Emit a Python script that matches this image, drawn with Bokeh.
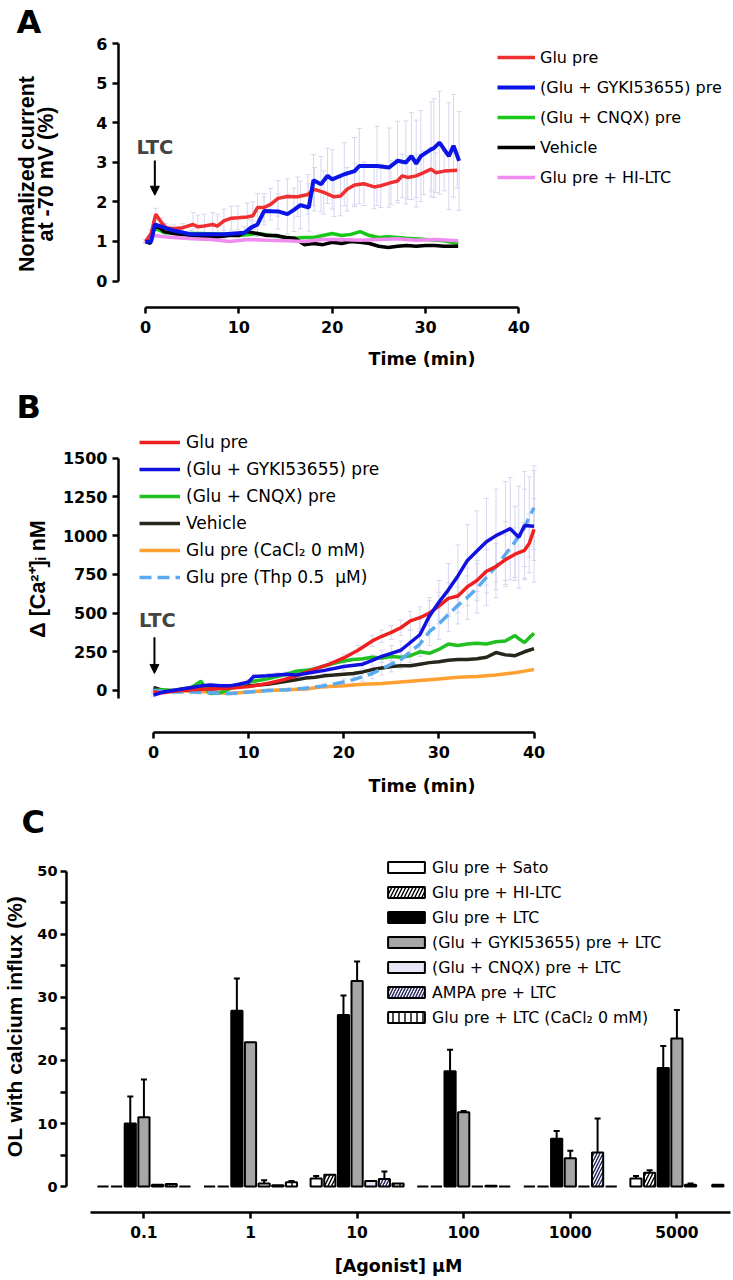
import math
from bokeh.plotting import figure
from bokeh.models import (Range1d, Legend, LegendItem, Label, Arrow, NormalHead, Title, LinearAxis,
                          Whisker, TeeHead, ColumnDataSource, FixedTicker)
from bokeh.transform import dodge
from bokeh.embed import file_html
from bokeh.resources import INLINE

HF = "DejaVu Sans"
VF = "Liberation Sans"
ERR = "#d6d6f2"

# ---------------- Panel A data ----------------
A_LABELS = ["Glu pre", "(Glu + GYKI53655) pre", "(Glu + CNQX) pre", "Vehicle", "Glu pre + HI-LTC"]
A_COLORS = ["#f03030", "#0a14e6", "#18c818", "#000000", "#f08cf0"]

A_GLU_T = [0, 0.6, 1.1, 1.7, 2.2, 3, 4, 5.1, 5.6, 6.3, 7.2, 7.7, 8.4, 9.2, 9.9, 10.9, 11.5, 12, 12.7, 13.4,
           14.2, 15.2, 16.3, 17.4, 18.1, 19.1, 20.2, 20.9, 21.6, 22.4, 23.4, 24.5, 25.2, 26.3, 27, 27.5, 28.1,
           29, 29.8, 30.6, 31.1, 32, 33.4]
A_GLU_V = [1.0, 1.2, 1.69, 1.48, 1.35, 1.32, 1.35, 1.43, 1.37, 1.39, 1.43, 1.39, 1.52, 1.59, 1.6, 1.62, 1.65,
           1.86, 1.86, 1.94, 2.09, 2.14, 2.13, 2.19, 2.32, 2.24, 2.13, 2.15, 2.32, 2.43, 2.46, 2.38, 2.41, 2.49,
           2.53, 2.66, 2.62, 2.66, 2.74, 2.83, 2.74, 2.78, 2.8]
A_GLU_E = [0.05, 0.1, 0.15, 0.12, 0.1, 0.1, 0.1, 0.3, 0.3, 0.3, 0.3, 0.3, 0.3, 0.3, 0.3, 0.35, 0.35, 0.35, 0.35,
           0.4, 0.45, 0.45, 0.5, 0.5, 0.55, 0.55, 0.5, 0.5, 0.55, 0.55, 0.55, 0.55, 0.55, 0.55, 0.55, 0.55, 0.55,
           0.55, 0.55, 0.55, 0.5, 0.5, 0.45]

A_GYKI_T = [0, 0.6, 1, 2, 3.1, 4.9, 8.4, 10.6, 11.3, 12, 12.7, 14.2, 15.2, 15.9, 16.6, 17.5, 18, 18.8, 19.5, 20,
            21.3, 22.4, 22.9, 24.8, 26.1, 27, 27.9, 28.5, 29, 29.5, 30.6, 30.9, 31.5, 32.5, 33, 33.6]
A_GYKI_V = [0.99, 1.0, 1.43, 1.35, 1.27, 1.18, 1.18, 1.22, 1.35, 1.43, 1.77, 1.76, 1.69, 1.8, 1.92, 1.86, 2.55,
            2.45, 2.66, 2.57, 2.7, 2.78, 2.91, 2.91, 2.87, 3.04, 3.0, 3.16, 2.97, 3.16, 3.33, 3.36, 3.5, 3.16,
            3.42, 3.04]
A_GYKI_E = [0.02, 0.05, 0.1, 0.1, 0.1, 0.1, 0.1, 0.15, 0.2, 0.3, 0.35, 0.45, 0.5, 0.55, 0.6, 0.6, 0.65, 0.7,
            0.7, 0.75, 0.8, 0.85, 0.95, 1.0, 1.0, 1.0, 1.05, 1.1, 1.1, 1.15, 1.2, 1.25, 1.3, 1.35, 1.3, 1.25]

A_CNQX_T = [0, 0.5, 1, 2, 4, 6, 8, 10, 12, 14, 16, 17, 18, 19, 20, 21, 22, 23, 24, 25, 26, 28, 30, 32, 33.5]
A_CNQX_V = [1.0, 1.05, 1.35, 1.22, 1.2, 1.2, 1.18, 1.15, 1.2, 1.13, 1.08, 1.1, 1.1, 1.15, 1.2, 1.15, 1.18, 1.25,
            1.15, 1.1, 1.12, 1.08, 1.05, 1.02, 0.95]

A_VEH_T = [0, 0.5, 1, 1.5, 2, 3, 5, 7, 9, 10, 10.8, 12, 13, 14, 15, 16, 17, 18, 19, 20, 21, 22, 23, 24, 25, 26,
           27, 28, 29, 30, 31, 32, 33.5]
A_VEH_V = [1.0, 0.95, 1.4, 1.35, 1.25, 1.2, 1.15, 1.1, 1.15, 1.15, 1.25, 1.2, 1.15, 1.15, 1.1, 1.08, 0.92, 0.95,
           0.92, 0.98, 0.95, 1.0, 0.98, 0.95, 0.88, 0.85, 0.88, 0.9, 0.88, 0.9, 0.9, 0.88, 0.88]

A_HI_T = [0, 1, 2, 3, 5, 7, 9, 11, 13, 15, 17, 19, 21, 23, 25, 27, 29, 31, 33.5]
A_HI_V = [1.0, 1.15, 1.12, 1.1, 1.07, 1.05, 1.0, 1.05, 1.03, 1.02, 1.0, 1.05, 1.05, 1.03, 1.05, 1.07, 1.03,
          1.05, 1.02]

A_XTICKS = [0, 10, 20, 30, 40]
A_YTICKS = [0, 1, 2, 3, 4, 5, 6]

# ---------------- Panel B data ----------------
B_LABELS = ["Glu pre", "(Glu + GYKI53655) pre", "(Glu + CNQX) pre", "Vehicle",
            "Glu pre (CaCl\u2082 0 mM)", "Glu pre (Thp 0.5  \u03bcM)"]
B_COLORS = ["#f02020", "#1010e0", "#20c020", "#26261a", "#ffa030", "#5aaaf0"]

B_GLU_T = [0, 1, 2, 4, 6, 8, 10, 12, 14, 15.5, 17, 18.5, 20, 21.5, 23, 24, 25, 26, 27, 28, 29, 30, 31, 32, 33,
           34, 35, 36, 37, 38, 39, 39.5, 40]
B_GLU_V = [-10, -15, -5, 5, 10, 15, 25, 45, 75, 105, 140, 170, 210, 260, 320, 350, 375, 405, 450, 470, 500,
           545, 595, 610, 670, 710, 770, 800, 845, 880, 905, 950, 1040]
B_GLU_E = [5, 5, 5, 5, 5, 5, 8, 10, 12, 15, 18, 20, 25, 30, 35, 40, 45, 50, 60, 70, 80, 90, 100, 110, 120, 130,
           140, 150, 160, 170, 180, 190, 200]

B_GYKI_T = [0, 0.5, 1, 2, 3, 4, 5, 6, 7, 8, 9, 10, 10.5, 12, 13, 14, 15, 16, 18, 20, 22, 23, 24, 25, 26, 27, 28,
            29, 30, 31, 32, 33, 34, 35, 36, 37, 37.5, 38.4, 39, 40]
B_GYKI_V = [-30, -20, -10, 0, 10, 20, 30, 35, 30, 30, 40, 55, 90, 95, 100, 105, 100, 110, 130, 155, 170, 195,
            220, 240, 260, 310, 360, 480, 570, 650, 740, 840, 900, 960, 1000, 1030, 1045, 990, 1065, 1060]
B_GYKI_E = [10, 10, 10, 10, 10, 10, 10, 10, 10, 10, 10, 15, 15, 15, 15, 15, 15, 20, 20, 25, 30, 35, 40, 50, 60,
            80, 100, 120, 140, 170, 200, 230, 260, 280, 300, 320, 330, 330, 350, 360]

B_CNQX_T = [0, 1, 2, 3, 4, 4.5, 5, 5.5, 6, 7, 8, 9, 10, 11, 12, 13, 14, 15, 16, 17, 18, 19, 20, 21, 22, 23, 24,
            25, 26, 27, 28, 29, 30, 31, 32, 33, 34, 35, 36, 37, 38, 38.5, 39, 39.5, 40]
B_CNQX_V = [0, 5, 0, 10, 20, 40, 60, 10, -20, -15, 10, 30, 55, 65, 75, 90, 105, 125, 130, 140, 160, 175, 190,
            200, 205, 215, 210, 220, 215, 225, 250, 240, 265, 300, 290, 300, 305, 300, 315, 320, 355, 330, 310,
            340, 370]

B_VEH_T = [0, 0.5, 1, 2, 3, 4, 5, 6, 7, 8, 9, 10, 11, 12, 13, 14, 15, 16, 17, 18, 19, 20, 21, 22, 23, 24, 25,
           26, 27, 28, 29, 30, 31, 32, 33, 34, 35, 36, 37, 38, 39, 40]
B_VEH_V = [20, 10, 0, -5, 0, 5, 10, 10, 15, 20, 25, 30, 35, 40, 50, 60, 70, 80, 85, 95, 100, 105, 110, 120, 135,
           145, 155, 160, 160, 170, 180, 185, 195, 200, 200, 205, 215, 245, 230, 225, 250, 270]

B_CA0_T = [0, 2, 4, 6, 8, 10, 12, 14, 16, 18, 20, 22, 24, 26, 28, 30, 32, 34, 36, 38, 39, 40]
B_CA0_V = [0, 0, -5, -10, -20, -10, 0, 5, 10, 25, 30, 40, 45, 55, 65, 75, 85, 90, 100, 115, 125, 135]

B_THP_T = [0, 2, 4, 6, 8, 10, 12, 14, 16, 18, 20, 21, 22, 23, 24, 25, 26, 27, 28, 29, 30, 31, 32, 33, 34, 35,
           36, 37, 38, 39, 39.5, 40]
B_THP_V = [0, -10, -10, -15, -20, -10, 0, 5, 15, 30, 55, 70, 90, 110, 140, 170, 200, 250, 300, 380, 430, 490,
           550, 600, 660, 730, 800, 880, 960, 1050, 1120, 1180]
B_THP_E = [5, 5, 5, 5, 5, 5, 8, 10, 12, 15, 20, 25, 30, 35, 40, 50, 60, 70, 80, 90, 100, 110, 120, 140, 160,
           180, 200, 210, 230, 250, 260, 270]

B_XTICKS = [0, 10, 20, 30, 40]
B_YTICKS = [0, 250, 500, 750, 1000, 1250, 1500]

# ---------------- Panel C data ----------------
C_GROUPS = ["0.1", "1", "10", "100", "1000", "5000"]
C_LABELS = ["Glu pre + Sato", "Glu pre + HI-LTC", "Glu pre + LTC", "(Glu + GYKI53655) pre + LTC",
            "(Glu + CNQX) pre + LTC", "AMPA pre + LTC", "Glu pre + LTC (CaCl\u2082 0 mM)"]
C_SATO = [0, 0, 1.3, 0, 0, 1.3]
C_SATO_E = [0, 0, 0.4, 0, 0, 0.4]
C_HI = [0, 0, 1.9, 0, 0, 2.2]
C_HI_E = [0, 0, 0, 0, 0, 0.4]
C_LTC = [10.0, 27.9, 27.2, 18.3, 7.6, 18.8]
C_LTC_E = [4.3, 5.1, 3.1, 3.4, 1.2, 3.5]
C_GYKI = [11.0, 22.9, 32.6, 11.8, 4.5, 23.5]
C_GYKI_E = [6.0, 0, 3.1, 0.2, 1.2, 4.5]
C_CNQX = [0.3, 0.5, 0.9, 0, 0, 0.3]
C_CNQX_E = [0, 0.5, 0, 0, 0, 0.2]
C_AMPA = [0.4, 0.2, 1.2, 0.15, 5.4, float("nan")]
C_AMPA_E = [0, 0, 1.2, 0, 5.4, 0]
C_CA0 = [0, 0.7, 0.5, 0, 0, 0.3]
C_CA0_E = [0, 0.2, 0, 0, 0, 0]
C_YTICKS = [0, 10, 20, 30, 40, 50]
C_YMINOR = [5, 15, 25, 35, 45]


def make_fig(w, h, xr, yr, bl, br, bt, bb):
    p = figure(width=w, height=h, x_range=Range1d(*xr), y_range=Range1d(*yr),
               output_backend="svg", toolbar_location=None,
               min_border_left=bl, min_border_right=br, min_border_top=bt, min_border_bottom=bb)
    p.outline_line_color = None
    p.xgrid.visible = False
    p.ygrid.visible = False
    p.background_fill_color = "white"
    p.border_fill_color = "white"
    return p


def style_axis(ax, ticks, bounds, fs, minor=None):
    ax.ticker = FixedTicker(ticks=ticks, minor_ticks=minor or [])
    ax.bounds = bounds
    ax.axis_line_width = 2.5
    ax.axis_line_color = "black"
    ax.major_tick_line_width = 2.5
    ax.major_tick_line_color = "black"
    ax.major_tick_out = 6
    ax.major_tick_in = 0
    if minor:
        ax.minor_tick_line_width = 2.5
        ax.minor_tick_line_color = "black"
        ax.minor_tick_out = 6
        ax.minor_tick_in = 0
    else:
        ax.minor_tick_line_color = None
    ax.major_label_text_font = HF
    ax.major_label_text_font_style = "bold"
    ax.major_label_text_font_size = fs
    ax.major_label_text_color = "black"
    ax.axis_label_text_font_style = "bold"
    ax.axis_label_text_color = "black"


def style_legend(lg, gw, gh, lh, sp, std, fs):
    lg.glyph_width = gw
    lg.glyph_height = gh
    lg.label_height = lh
    lg.spacing = sp
    lg.label_standoff = std
    lg.padding = 0
    lg.margin = 0
    lg.border_line_color = None
    lg.background_fill_alpha = 0
    lg.label_text_font = HF
    lg.label_text_font_size = fs
    lg.label_text_color = "black"


def panel_letter(p, letter, offset, size):
    t = Title(text=letter, align="left", offset=offset, standoff=0, vertical_align="bottom",
              text_font=HF, text_font_style="bold", text_font_size=size, text_color="black")
    p.add_layout(t, "above")


def err_whisker(t, v, e, color, size=5, width=1):
    src = ColumnDataSource(dict(t=t, lo=[a - b for a, b in zip(v, e)], up=[a + b for a, b in zip(v, e)]))
    return Whisker(source=src, base="t", lower="lo", upper="up", dimension="height",
                   line_color=color, line_width=width,
                   upper_head=TeeHead(size=size, line_color=color, line_width=width),
                   lower_head=TeeHead(size=size, line_color=color, line_width=width),
                   level="underlay")


# ====================== Panel A (page y 0-380) ======================
pA = make_fig(733, 380, (-2.893, 62.14), (-0.670, 6.084), 118, 8, 40, 73)
style_axis(pA.xaxis[0], A_XTICKS, (0, 40), "16px")
style_axis(pA.yaxis[0], A_YTICKS, (0, 6), "16px")
pA.xaxis.major_label_standoff = 7
pA.yaxis.major_label_standoff = 5
pA.xaxis.axis_label = "Time (min)"
pA.xaxis.axis_label_text_font = HF
pA.xaxis.axis_label_text_font_size = "17.5px"
pA.xaxis.axis_label_standoff = 13
pA.yaxis.axis_label = "at -70 mV (%)"
pA.yaxis.axis_label_text_font = VF
pA.yaxis.axis_label_text_font_size = "21.5px"
pA.yaxis.axis_label_standoff = 35
outerA = LinearAxis(axis_label="Normalized current", ticker=FixedTicker(ticks=[]),
                    axis_line_color=None, major_tick_line_color=None, minor_tick_line_color=None,
                    major_tick_out=0, major_tick_in=0, major_label_standoff=0,
                    major_label_text_font_size="1px", axis_label_standoff=-7,
                    axis_label_text_font=VF, axis_label_text_font_size="21.5px",
                    axis_label_text_font_style="bold", axis_label_text_color="black")
pA.add_layout(outerA, "left")

pA.add_layout(err_whisker(A_GLU_T, A_GLU_V, A_GLU_E, ERR))
pA.add_layout(err_whisker(A_GYKI_T, A_GYKI_V, A_GYKI_E, ERR))

rA_cnqx = pA.line(A_CNQX_T, A_CNQX_V, line_color=A_COLORS[2], line_width=3.5)
rA_veh = pA.line(A_VEH_T, A_VEH_V, line_color=A_COLORS[3], line_width=3.5)
rA_hi = pA.line(A_HI_T, A_HI_V, line_color=A_COLORS[4], line_width=3.5)
rA_glu = pA.line(A_GLU_T, A_GLU_V, line_color=A_COLORS[0], line_width=3.5)
rA_gyki = pA.line(A_GYKI_T, A_GYKI_V, line_color=A_COLORS[1], line_width=4)

legA = Legend(items=[LegendItem(label=A_LABELS[0], renderers=[rA_glu]),
                     LegendItem(label=A_LABELS[1], renderers=[rA_gyki]),
                     LegendItem(label=A_LABELS[2], renderers=[rA_cnqx]),
                     LegendItem(label=A_LABELS[3], renderers=[rA_veh]),
                     LegendItem(label=A_LABELS[4], renderers=[rA_hi])],
              location=(379, 120))
style_legend(legA, 38, 20, 20, 10, 5, "16px")
pA.add_layout(legA)

panel_letter(pA, "A", -102, "32px")
pA.add_layout(Label(x=1, y=3.385, text="LTC", text_font=HF, text_font_style="bold",
                    text_font_size="19.5px", text_align="center", text_baseline="middle"))
pA.add_layout(Arrow(x_start=1, y_start=3.05, x_end=1, y_end=2.17, line_width=2, line_color="black",
                    end=NormalHead(size=9, fill_color="black", line_color="black")))

# ====================== Panel B (page y 380-800) ======================
pB = make_fig(733, 420, (-3.679, 60.13), (-271.2, 1711.1), 118, 8, 45, 68)
style_axis(pB.xaxis[0], B_XTICKS, (0, 40), "16px")
style_axis(pB.yaxis[0], B_YTICKS, (-52, 1500), "16px")
pB.xaxis.major_label_standoff = 7
pB.yaxis.major_label_standoff = 5
pB.xaxis.axis_label = "Time (min)"
pB.xaxis.axis_label_text_font = HF
pB.xaxis.axis_label_text_font_size = "17.5px"
pB.xaxis.axis_label_standoff = 15
pB.yaxis.axis_label = "\u0394 [Ca\u00b2\u207a]\u1d62 nM"
pB.yaxis.axis_label_text_font = VF
pB.yaxis.axis_label_text_font_size = "21.5px"
pB.yaxis.axis_label_standoff = 10

pB.add_layout(err_whisker(B_GLU_T, B_GLU_V, B_GLU_E, ERR))
pB.add_layout(err_whisker(B_GYKI_T, B_GYKI_V, B_GYKI_E, ERR))
pB.add_layout(err_whisker(B_THP_T, B_THP_V, B_THP_E, ERR))

rB_ca0 = pB.line(B_CA0_T, B_CA0_V, line_color=B_COLORS[4], line_width=3.5)
rB_veh = pB.line(B_VEH_T, B_VEH_V, line_color=B_COLORS[3], line_width=3.5)
rB_cnqx = pB.line(B_CNQX_T, B_CNQX_V, line_color=B_COLORS[2], line_width=3.5)
rB_thp = pB.line(B_THP_T, B_THP_V, line_color=B_COLORS[5], line_width=3.5, line_dash="12 6")
rB_glu = pB.line(B_GLU_T, B_GLU_V, line_color=B_COLORS[0], line_width=3.5)
rB_gyki = pB.line(B_GYKI_T, B_GYKI_V, line_color=B_COLORS[1], line_width=3.5)

legB = Legend(items=[LegendItem(label=B_LABELS[0], renderers=[rB_glu]),
                     LegendItem(label=B_LABELS[1], renderers=[rB_gyki]),
                     LegendItem(label=B_LABELS[2], renderers=[rB_cnqx]),
                     LegendItem(label=B_LABELS[3], renderers=[rB_veh]),
                     LegendItem(label=B_LABELS[4], renderers=[rB_ca0]),
                     LegendItem(label=B_LABELS[5], renderers=[rB_thp])],
              location=(21, 145))
style_legend(legB, 41, 20, 20, 7, 6, "17px")
pB.add_layout(legB)

panel_letter(pB, "B", -102, "32px")
pB.add_layout(Label(x=0.42, y=452, text="LTC", text_font=HF, text_font_style="bold",
                    text_font_size="19.5px", text_align="center", text_baseline="middle"))
pB.add_layout(Arrow(x_start=0.1, y_start=344, x_end=0.1, y_end=110, line_width=2, line_color="black",
                    end=NormalHead(size=9, fill_color="black", line_color="black")))

# ====================== Panel C (page y 800-1280) ======================
pC = make_fig(733, 480, (-0.7263, 5.5028), (-4.105, 54.88), 61, 3, 38, 68)
style_axis(pC.xaxis[0], [0, 1, 2, 3, 4, 5], (-0.5, 5.5), "15.5px")
style_axis(pC.yaxis[0], C_YTICKS, (0, 50), "14.5px", minor=C_YMINOR)
pC.xaxis.major_label_overrides = {i: g for i, g in enumerate(C_GROUPS)}
pC.xaxis.major_label_standoff = 7
pC.yaxis.major_label_standoff = 3
pC.xaxis.axis_label = "[Agonist] \u03bcM"
pC.xaxis.axis_label_text_font = HF
pC.xaxis.axis_label_text_font_size = "17.5px"
pC.xaxis.axis_label_standoff = 15
pC.yaxis.axis_label = "OL with calcium influx (%)"
pC.yaxis.axis_label_text_font = VF
pC.yaxis.axis_label_text_font_size = "21px"
pC.yaxis.axis_label_standoff = 8

C_VALUES = [C_SATO, C_HI, C_LTC, C_GYKI, C_CNQX, C_AMPA, C_CA0]
C_ERRS = [C_SATO_E, C_HI_E, C_LTC_E, C_GYKI_E, C_CNQX_E, C_AMPA_E, C_CA0_E]
C_STYLES = [
    dict(fill_color="white"),
    dict(fill_color="white", hatch_pattern="/", hatch_color="black", hatch_weight=1.4, hatch_scale=7),
    dict(fill_color="black"),
    dict(fill_color="#a6a6a6"),
    dict(fill_color="#e6e6f5"),
    dict(fill_color="white", hatch_pattern="/", hatch_color="#20205a", hatch_weight=1.4, hatch_scale=6),
    dict(fill_color="white", hatch_pattern="|", hatch_color="black", hatch_weight=1.4, hatch_scale=6),
]
PITCH = 0.128
c_items = []
for i, (vals, errs, st) in enumerate(zip(C_VALUES, C_ERRS, C_STYLES)):
    off = (i - 3) * PITCH
    src = ColumnDataSource(dict(g=list(range(len(C_GROUPS))), top=vals))
    r = pC.vbar(x=dodge("g", off), top="top", bottom=0, width=0.105, source=src,
                line_color="black", line_width=2, **st)
    c_items.append(LegendItem(label=C_LABELS[i], renderers=[r]))
    wx = [g + off for g, e in enumerate(errs) if e > 0]
    wl = [vals[g] for g, e in enumerate(errs) if e > 0]
    wu = [vals[g] + e for g, e in enumerate(errs) if e > 0]
    if wx:
        wsrc = ColumnDataSource(dict(x=wx, lo=wl, up=wu))
        pC.add_layout(Whisker(source=wsrc, base="x", lower="lo", upper="up", dimension="height",
                              line_color="black", line_width=2, lower_head=None,
                              upper_head=TeeHead(size=6, line_color="black", line_width=2)))

legC = Legend(items=c_items, location=(317, 185))
style_legend(legC, 46, 14, 20, 5, 3, "15.8px")
pC.add_layout(legC)

panel_letter(pC, "C", -45, "32px")

open("out.html", "w").write(file_html([pA, pB, pC], INLINE))
